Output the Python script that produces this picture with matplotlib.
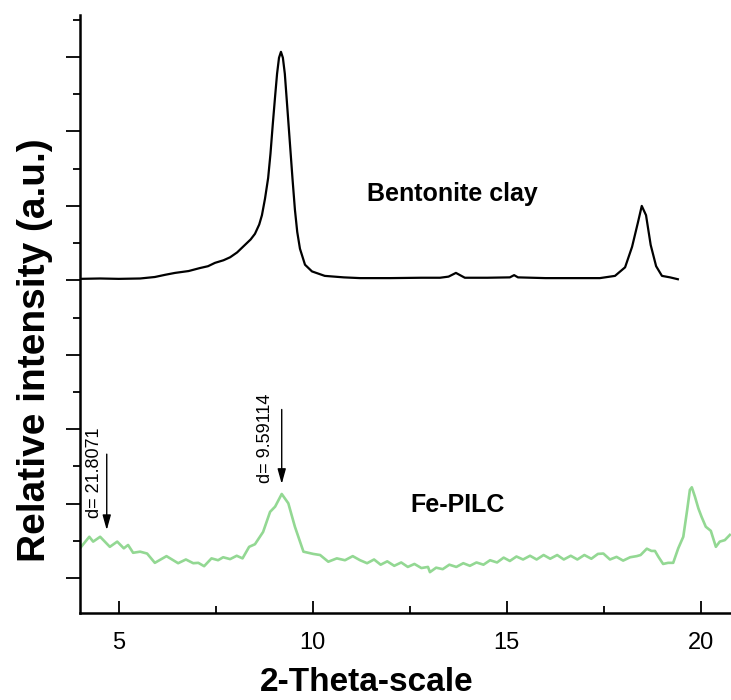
import numpy as np
import matplotlib
matplotlib.use("Agg")
import matplotlib.pyplot as plt
from matplotlib.ticker import MultipleLocator

plt.rcParams['font.family'] = ['Liberation Sans', 'DejaVu Sans']

# Bentonite clay (offset trace)
bent_x = [4.00, 4.52, 5.00, 5.55, 5.93, 6.20, 6.45, 6.80, 7.09, 7.30, 7.48, 7.70,
          7.87, 8.05, 8.25, 8.40, 8.51, 8.62, 8.69, 8.77, 8.85, 8.91, 8.97, 9.03,
          9.08, 9.13, 9.18, 9.23, 9.28, 9.34, 9.41, 9.48, 9.54, 9.60, 9.67, 9.80,
          9.98, 10.31, 10.80, 11.22, 12.00, 12.80, 13.28, 13.50, 13.69, 13.92,
          14.50, 15.08, 15.19, 15.29, 16.00, 16.80, 17.40, 17.79, 18.05, 18.23,
          18.38, 18.48, 18.59, 18.71, 18.85, 19.00, 19.21, 19.41]
bent_y = [8.04, 8.05, 8.04, 8.05, 8.09, 8.15, 8.20, 8.25, 8.33, 8.38, 8.47, 8.54,
          8.62, 8.75, 8.95, 9.10, 9.25, 9.50, 9.75, 10.20, 10.75, 11.40, 12.20, 12.95,
          13.55, 13.98, 14.14, 13.98, 13.55, 12.70, 11.70, 10.70, 9.90, 9.30, 8.85, 8.42,
          8.24, 8.12, 8.08, 8.06, 8.06, 8.07, 8.07, 8.10, 8.20, 8.07,
          8.07, 8.08, 8.14, 8.08, 8.06, 8.06, 8.06, 8.12, 8.35, 8.90,
          9.55, 10.00, 9.75, 8.95, 8.38, 8.12, 8.08, 8.03]

# Fe-PILC
fe_x = [4.00, 4.24, 4.34, 4.52, 4.77, 4.96, 5.13, 5.24, 5.37, 5.55, 5.73, 5.93,
        6.23, 6.53, 6.73, 6.92, 7.05, 7.20, 7.39, 7.56, 7.69, 7.87, 8.04, 8.19,
        8.36, 8.51, 8.72, 8.90, 9.03, 9.20, 9.37, 9.54, 9.76, 10.01, 10.19, 10.40,
        10.62, 10.83, 11.03, 11.22, 11.40, 11.58, 11.75, 11.92, 12.10, 12.28, 12.45,
        12.62, 12.80, 12.97, 13.02, 13.18, 13.35, 13.52, 13.70, 13.88, 14.05, 14.22,
        14.40, 14.57, 14.75, 14.92, 15.08, 15.25, 15.42, 15.60, 15.77, 15.95, 16.12,
        16.30, 16.47, 16.65, 16.82, 17.00, 17.18, 17.35, 17.49, 17.66, 17.83, 18.00,
        18.18, 18.35, 18.45, 18.61, 18.73, 18.82, 18.91, 19.03, 19.16, 19.29, 19.42,
        19.55, 19.65, 19.72, 19.77, 19.85, 19.94, 20.02, 20.13, 20.26, 20.39, 20.49,
        20.62, 20.75]
fe_y = [0.80, 1.11, 0.98, 1.11, 0.84, 0.98, 0.80, 0.89, 0.68, 0.71, 0.66, 0.41,
        0.59, 0.40, 0.50, 0.40, 0.41, 0.32, 0.53, 0.48, 0.56, 0.51, 0.60, 0.53,
        0.84, 0.91, 1.24, 1.78, 1.92, 2.26, 2.01, 1.38, 0.71, 0.65, 0.62, 0.44,
        0.53, 0.48, 0.59, 0.48, 0.40, 0.50, 0.36, 0.45, 0.33, 0.42, 0.30,
        0.38, 0.27, 0.30, 0.16, 0.28, 0.24, 0.36, 0.30, 0.40, 0.33, 0.42,
        0.36, 0.48, 0.42, 0.55, 0.46, 0.58, 0.50, 0.60, 0.50, 0.62, 0.52,
        0.62, 0.50, 0.60, 0.50, 0.62, 0.52, 0.65, 0.66, 0.50, 0.57, 0.47,
        0.56, 0.59, 0.62, 0.79, 0.73, 0.73, 0.57, 0.38, 0.41, 0.41, 0.80,
        1.11, 1.83, 2.37, 2.44, 2.19, 1.87, 1.65, 1.38, 1.27, 0.84, 0.98,
        1.02, 1.16]

fig = plt.figure(figsize=(7.31, 7.0), dpi=100)
ax = fig.add_axes([0.1094, 0.1247, 0.8906, 0.8539])

ax.plot(bent_x, bent_y, color='black', lw=1.6, solid_joinstyle='round')
ax.plot(fe_x, fe_y, color='#93d893', lw=1.9, solid_joinstyle='round')

ax.set_xlim(4.0, 20.78)
ax.set_ylim(-0.93, 15.13)

for s in ['top', 'right']:
    ax.spines[s].set_visible(False)
for s in ['left', 'bottom']:
    ax.spines[s].set_linewidth(1.8)

ax.xaxis.set_major_locator(MultipleLocator(5))
ax.xaxis.set_minor_locator(MultipleLocator(2.5))
ax.yaxis.set_major_locator(MultipleLocator(2))
ax.yaxis.set_minor_locator(MultipleLocator(1))
ax.tick_params(axis='x', which='major', direction='in', length=9, width=1.3, labelsize=17, pad=14)
ax.tick_params(axis='x', which='minor', direction='in', length=5, width=1.3)
ax.tick_params(axis='y', which='major', direction='out', length=10, width=1.3, labelleft=False)
ax.tick_params(axis='y', which='minor', direction='out', length=5, width=1.3)

xl = ax.set_xlabel('2-Theta-scale', fontsize=24, fontweight='bold')
xl.set_verticalalignment('center')
ax.xaxis.set_label_coords(0.44, -0.116)
yl = ax.set_ylabel('Relative intensity (a.u.)', fontsize=28, fontweight='bold')
yl.set_verticalalignment('center')
ax.yaxis.set_label_coords(-0.069, 0.44)

ax.text(13.6, 10.32, 'Bentonite clay', fontsize=18, fontweight='bold', ha='center', va='center')
ax.text(13.74, 1.96, 'Fe-PILC', fontsize=18, fontweight='bold', ha='center', va='center')

arrow = dict(arrowstyle='-|>,head_width=0.25,head_length=0.9', color='black', lw=1.0, shrinkA=0, shrinkB=0)
ax.annotate('', xy=(4.69, 1.29), xytext=(4.69, 3.33), arrowprops=arrow)
ax.annotate('', xy=(9.20, 2.53), xytext=(9.20, 4.53), arrowprops=arrow)
ax.text(4.37, 2.82, 'd= 21.8071', fontsize=13, rotation=90, ha='center', va='center')
ax.text(8.79, 3.75, 'd= 9.59114', fontsize=13, rotation=90, ha='center', va='center')

fig.savefig('out.png', dpi=100)
